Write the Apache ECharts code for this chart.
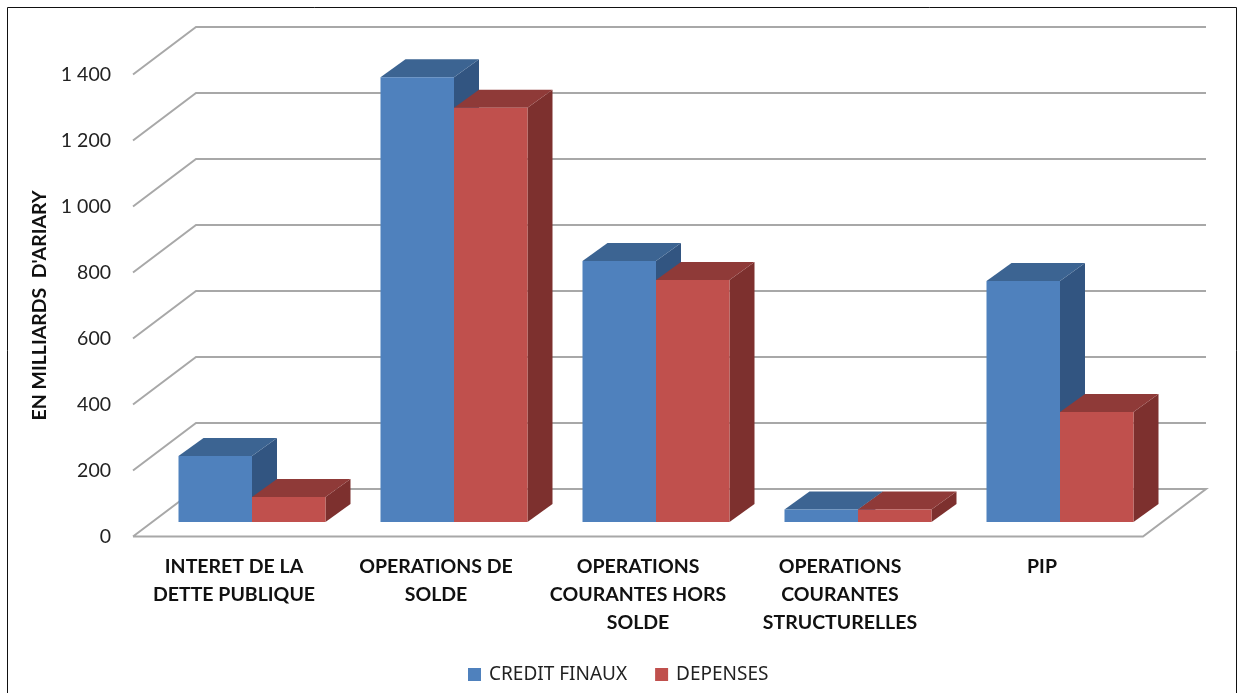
<!DOCTYPE html>
<html>
<head>
<meta charset="utf-8">
<title>Credits et depenses</title>
<script src="https://cdn.jsdelivr.net/npm/echarts@6/dist/echarts.min.js"></script>
<style>
  html, body { margin: 0; padding: 0; background: #fff; overflow: hidden; }
  #main { width: 1238px; height: 693px; }
</style>
</head>
<body>
<div id="main"></div>
<script>
const categories = [
  'INTERET DE LA\nDETTE PUBLIQUE',
  'OPERATIONS DE\nSOLDE',
  'OPERATIONS\nCOURANTES HORS\nSOLDE',
  'OPERATIONS\nCOURANTES\nSTRUCTURELLES',
  'PIP'
]
const creditFinaux = [200, 1348, 791, 38, 730]
const depenses = [76, 1255, 733, 38, 333]
const yTicks = [0, 200, 400, 600, 800, 1000, 1200, 1400]
const yTickLabels = ['0', '200', '400', '600', '800', '1 000', '1 200', '1 400']

// 3d look, in pixels
const wallDx = 63
const wallDy = -47.5
const barShiftX = 18
const barShiftY = -14.5
const barDx = 25
const barDy = -18
const barWidth = 73.5

function gridItem (params, api) {
  let v = api.value(0)
  let half = api.size([1, 0])[0] / 2
  let a = api.coord([0, v])
  let b = api.coord([categories.length - 1, v])
  let left = a[0] - half
  let right = b[0] + half
  let y = a[1]
  let style = { stroke: '#a8a8a8', lineWidth: 2, fill: null }
  let points = [[left, y], [left + wallDx, y + wallDy], [right + wallDx, y + wallDy]]
  if (v === 0) {
    points.push([right, y], [left, y])
  }
  return { type: 'polyline', shape: { points: points }, style: style }
}

function barItem (side, front, topColor, sideColor) {
  return function (params, api) {
    let top = api.coord([api.value(0), api.value(1)])
    let base = api.coord([api.value(0), 0])
    let x0 = top[0] + barShiftX + (side === 0 ? -barWidth : 0)
    let x1 = x0 + barWidth
    let yt = top[1] + barShiftY
    let yb = base[1] + barShiftY
    return {
      type: 'group',
      children: [
        { type: 'polygon', shape: { points: [[x1, yt], [x1 + barDx, yt + barDy], [x1 + barDx, yb + barDy], [x1, yb]] }, style: { fill: sideColor } },
        { type: 'polygon', shape: { points: [[x0, yt], [x0 + barDx, yt + barDy], [x1 + barDx, yt + barDy], [x1, yt]] }, style: { fill: topColor } },
        { type: 'rect', shape: { x: x0, y: yt, width: barWidth, height: yb - yt }, style: { fill: front } }
      ]
    }
  }
}

let chart = echarts.init(document.getElementById('main'), null, { renderer: 'canvas' })
chart.setOption({
  animation: false,
  textStyle: { fontFamily: 'Lato' },
  grid: { left: 133, right: 95, top: 74.5, bottom: 156.5, containLabel: false },
  legend: {
    data: ['CREDIT FINAUX', 'DEPENSES'],
    left: 463,
    top: 660,
    icon: 'rect',
    itemWidth: 13,
    itemHeight: 13,
    itemGap: 28,
    textStyle: { fontFamily: 'Noto Sans', fontSize: 19, color: '#222', padding: [0, 0, 0, 3] }
  },
  graphic: [{
    type: 'rect',
    silent: true,
    shape: { x: 7.5, y: 7.5, width: 1229, height: 700 },
    style: { fill: null, stroke: '#111', lineWidth: 1 }
  }],
  xAxis: {
    type: 'category',
    data: categories,
    axisLine: { show: false },
    axisTick: { show: false },
    axisLabel: {
      interval: 0,
      margin: 16,
      fontFamily: 'Lato',
      fontWeight: 'bold',
      fontSize: 19.5,
      lineHeight: 28,
      color: '#111',
      verticalAlign: 'top'
    }
  },
  yAxis: {
    type: 'value',
    min: 0,
    max: 1400,
    interval: 200,
    name: "EN MILLIARDS  D'ARIARY",
    nameLocation: 'middle',
    nameGap: 83,
    nameTextStyle: { fontFamily: 'Lato', fontWeight: 'bold', fontSize: 19.5, color: '#111' },
    axisLine: { show: false },
    axisTick: { show: false },
    splitLine: { show: false },
    axisLabel: {
      margin: 22,
      padding: [2, 0, 0, 0],
      fontFamily: 'Lato',
      fontSize: 19.5,
      color: '#222',
      formatter: function (v) { return yTickLabels[yTicks.indexOf(v)] }
    }
  },
  series: [
    {
      type: 'custom',
      silent: true,
      clip: false,
      z: 1,
      renderItem: gridItem,
      encode: { y: 0 },
      data: yTicks.map(v => [v])
    },
    {
      name: 'CREDIT FINAUX',
      type: 'custom',
      clip: false,
      z: 2,
      itemStyle: { color: '#4f81bd' },
      renderItem: barItem(0, '#4f81bd', '#3c6492', '#325581'),
      encode: { x: 0, y: 1 },
      data: creditFinaux.map((v, i) => [i, v])
    },
    {
      name: 'DEPENSES',
      type: 'custom',
      clip: false,
      z: 3,
      itemStyle: { color: '#c0504d' },
      renderItem: barItem(1, '#c0504d', '#8f3a38', '#7d302e'),
      encode: { x: 0, y: 1 },
      data: depenses.map((v, i) => [i, v])
    }
  ]
})
</script>
</body>
</html>
